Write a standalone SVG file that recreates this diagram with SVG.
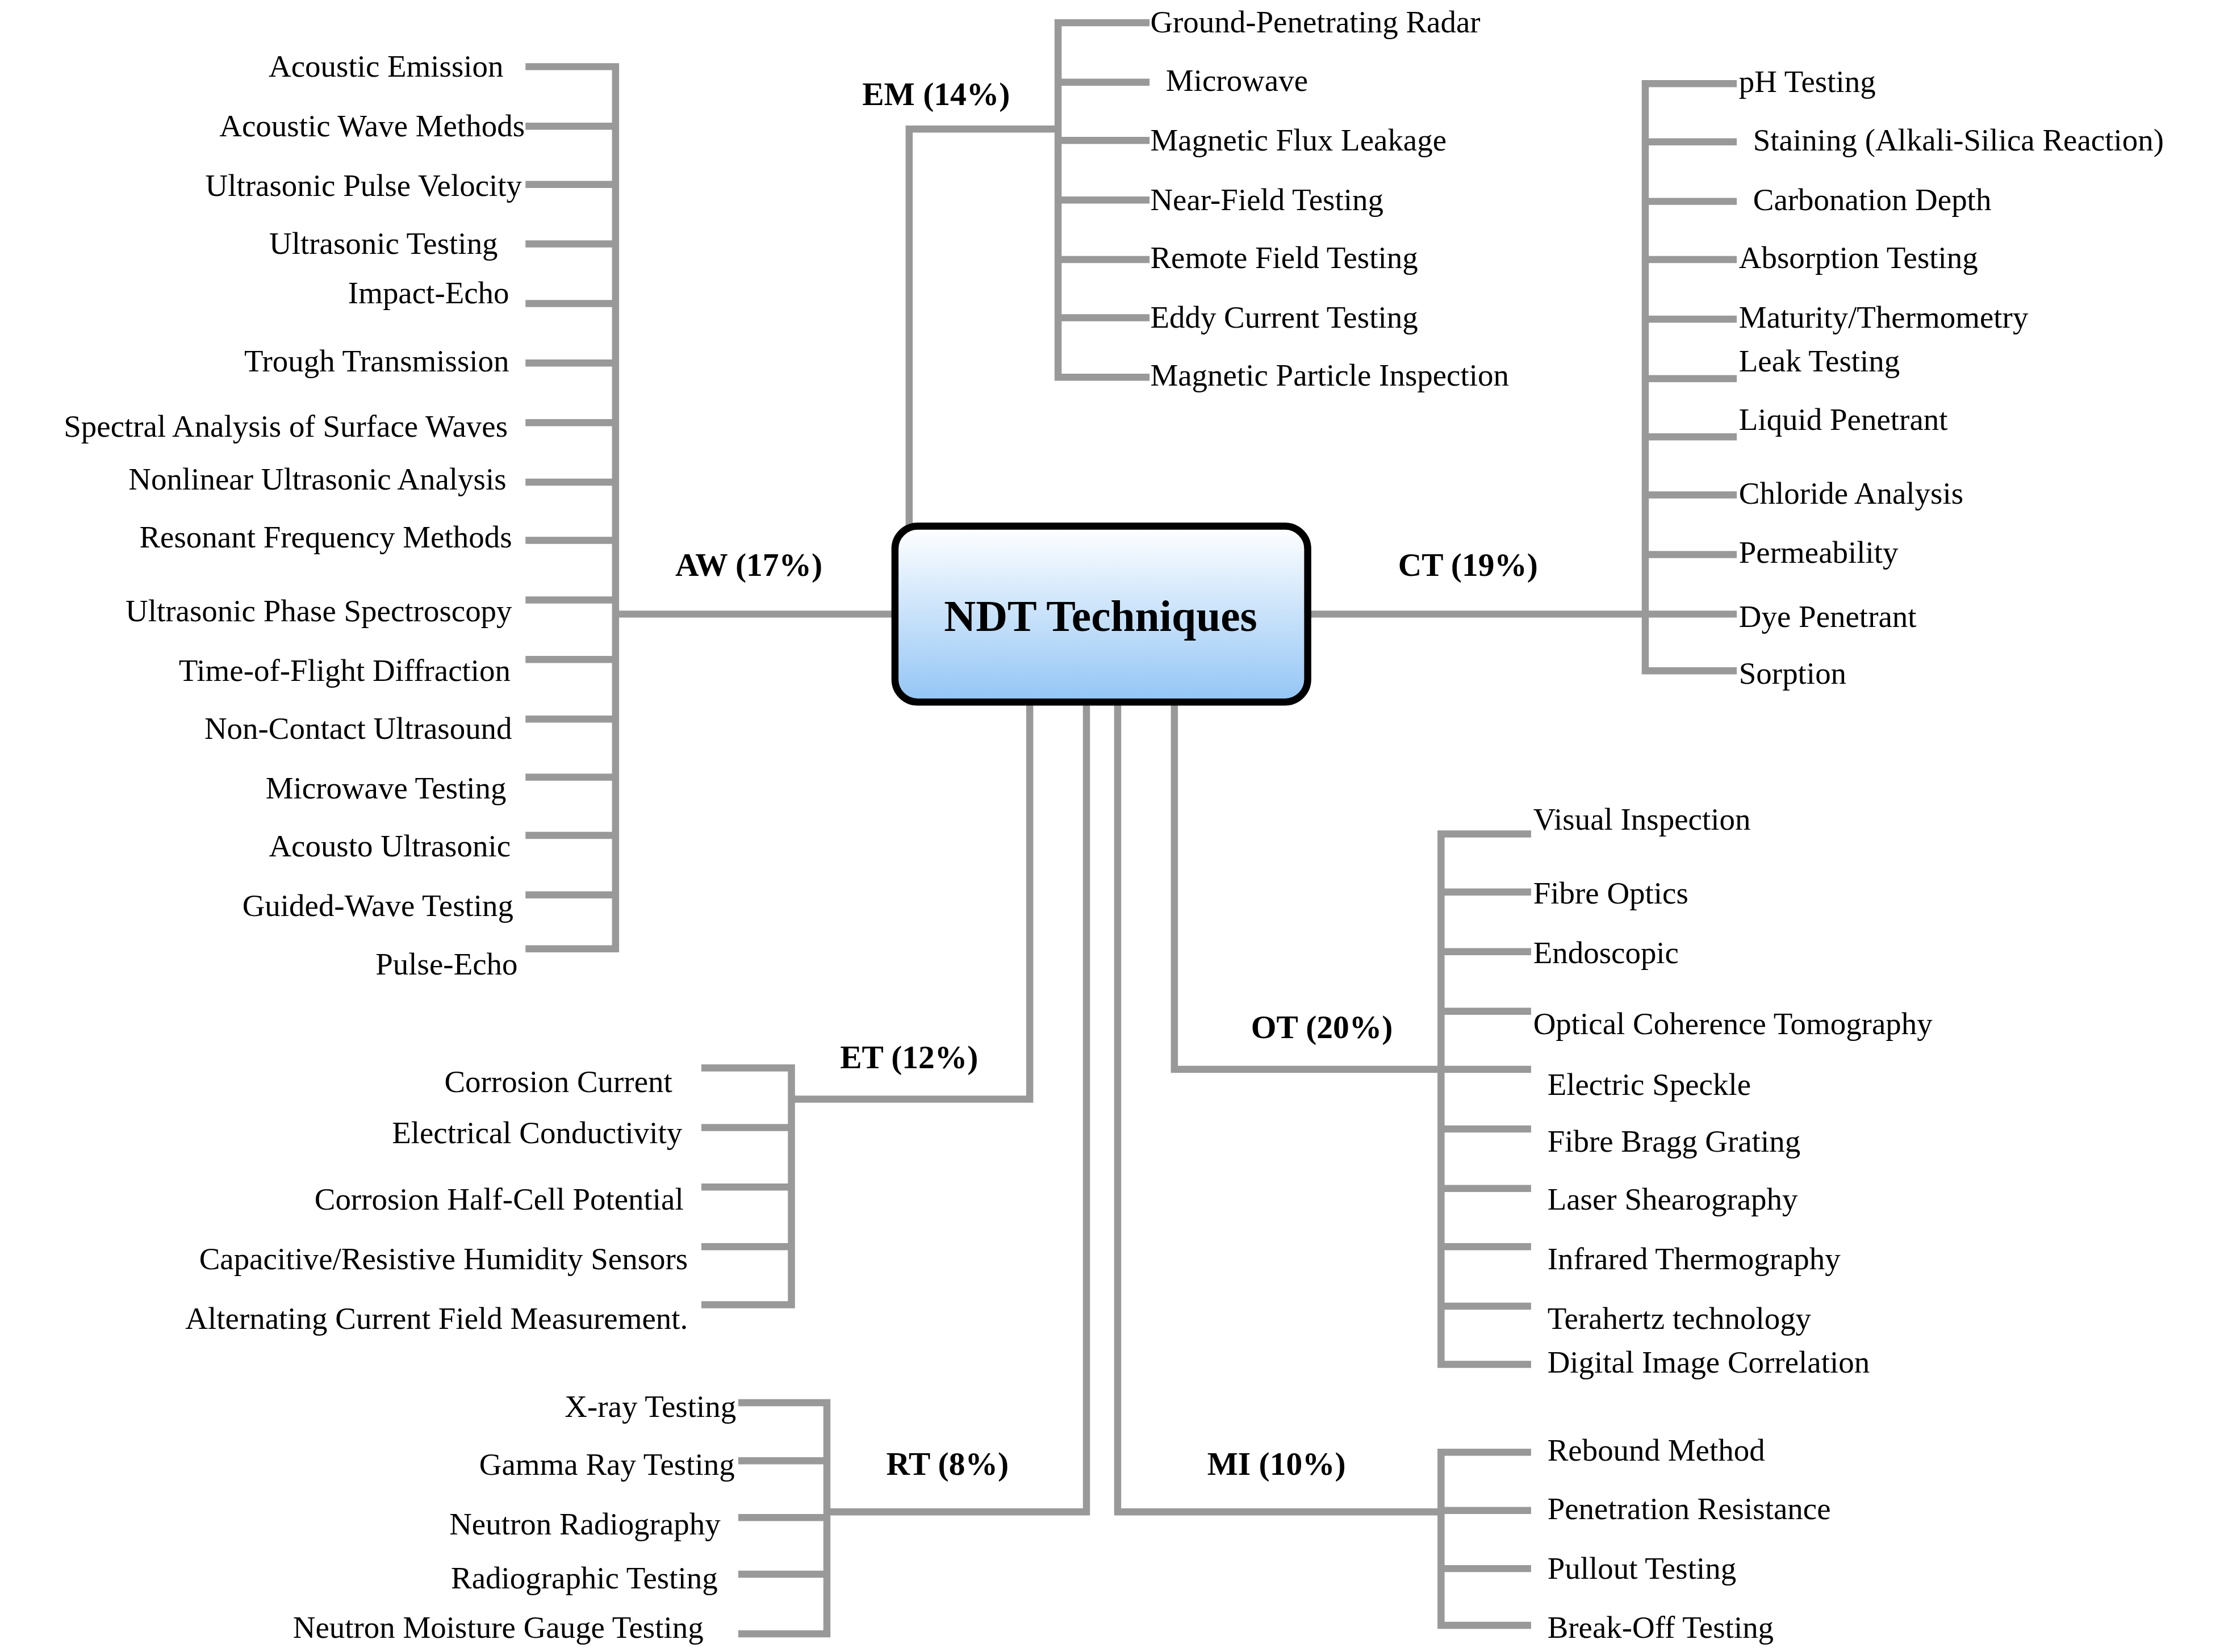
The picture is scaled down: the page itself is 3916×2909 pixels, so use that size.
<svg xmlns="http://www.w3.org/2000/svg" width="3916" height="2909" viewBox="0 0 3916 2909">
<style>
.l{stroke:#999;stroke-width:5;fill:none;stroke-linecap:square}
text{font-family:"Liberation Serif",serif;font-size:22px;fill:#000}
.r{text-anchor:end}
.b{font-weight:bold;font-size:23px;text-anchor:middle}
</style>
<defs><linearGradient id="g" x1="0" y1="0" x2="0" y2="1"><stop offset="0" stop-color="#ffffff"/><stop offset="1" stop-color="#93c5f5"/></linearGradient></defs>
<rect width="3916" height="2909" fill="#fff"/>
<g transform="scale(2.4974)">
<g id="connectors">
<path class="l" d="M630 433H434M434 47V669M373 47H434M373 89H434M373 130H434M373 172H434M373 214H434M373 256H434M373 298H434M373 340H434M373 381H434M373 423H434M373 465H434M373 507H434M373 548H434M373 589H434M373 631H434M373 669H434"/>
<path class="l" d="M641 370V91H746M746 16V266M746 16H808M746 58H808M746 99H808M746 141H808M746 183H808M746 224H808M746 266H808"/>
<path class="l" d="M922 433H1160M1160 59V473M1160 59H1222M1160 100H1222M1160 142H1222M1160 183H1222M1160 225H1222M1160 267H1222M1160 308H1222M1160 349H1222M1160 391H1222M1160 433H1222M1160 473H1222"/>
<path class="l" d="M726 495V775H558M558 753V920M497 753H558M497 795H558M497 837H558M497 879H558M497 920H558"/>
<path class="l" d="M828 495V754H1016M1016 588V962M1016 588H1077M1016 629H1077M1016 671H1077M1016 713H1077M1016 754H1077M1016 796H1077M1016 838H1077M1016 879H1077M1016 921H1077M1016 962H1077"/>
<path class="l" d="M766 495V1066H583M583 989V1150M523 989H583M523 1030H583M523 1070H583M523 1110H583M523 1152H583"/>
<path class="l" d="M788 495V1066H1016M1016 1024V1146M1016 1024H1077M1016 1065H1077M1016 1106H1077M1016 1146H1077"/>
</g>
<g id="center"><rect x="631" y="371" width="291" height="124" rx="16" fill="url(#g)" stroke="#000" stroke-width="5"/><text x="776" y="445" style="font-size:31px;font-weight:bold;text-anchor:middle">NDT Techniques</text></g>
<g id="labels">
<text class="b" x="528" y="406">AW (17%)</text>
<text class="b" x="660" y="74">EM (14%)</text>
<text class="b" x="1035" y="406">CT (19%)</text>
<text class="b" x="641" y="753">ET (12%)</text>
<text class="b" x="932" y="732">OT (20%)</text>
<text class="b" x="668" y="1040">RT (8%)</text>
<text class="b" x="900" y="1040">MI (10%)</text>
</g>
<g id="aw">
<text class="r" x="355" y="54">Acoustic Emission</text>
<text class="r" x="370" y="96">Acoustic Wave Methods</text>
<text class="r" x="368" y="138">Ultrasonic Pulse Velocity</text>
<text class="r" x="351" y="179">Ultrasonic Testing</text>
<text class="r" x="359" y="214">Impact-Echo</text>
<text class="r" x="359" y="262">Trough Transmission</text>
<text class="r" x="358" y="308">Spectral Analysis of Surface Waves</text>
<text class="r" x="357" y="345">Nonlinear Ultrasonic Analysis</text>
<text class="r" x="361" y="386">Resonant Frequency Methods</text>
<text class="r" x="361" y="438">Ultrasonic Phase Spectroscopy</text>
<text class="r" x="360" y="480">Time-of-Flight Diffraction</text>
<text class="r" x="361" y="521">Non-Contact Ultrasound</text>
<text class="r" x="357" y="563">Microwave Testing</text>
<text class="r" x="360" y="604">Acousto Ultrasonic</text>
<text class="r" x="362" y="646">Guided-Wave Testing</text>
<text class="r" x="365" y="687">Pulse-Echo</text>
</g>
<g id="em">
<text x="811" y="23">Ground-Penetrating Radar</text>
<text x="822" y="64">Microwave</text>
<text x="811" y="106">Magnetic Flux Leakage</text>
<text x="811" y="148">Near-Field Testing</text>
<text x="811" y="189">Remote Field Testing</text>
<text x="811" y="231">Eddy Current Testing</text>
<text x="811" y="272">Magnetic Particle Inspection</text>
</g>
<g id="ct">
<text x="1226" y="65">pH Testing</text>
<text x="1236" y="106">Staining (Alkali-Silica Reaction)</text>
<text x="1236" y="148">Carbonation Depth</text>
<text x="1226" y="189">Absorption Testing</text>
<text x="1226" y="231">Maturity/Thermometry</text>
<text x="1226" y="262">Leak Testing</text>
<text x="1226" y="303">Liquid Penetrant</text>
<text x="1226" y="355">Chloride Analysis</text>
<text x="1226" y="397">Permeability</text>
<text x="1226" y="442">Dye Penetrant</text>
<text x="1226" y="482">Sorption</text>
</g>
<g id="et">
<text class="r" x="474" y="770">Corrosion Current</text>
<text class="r" x="481" y="806">Electrical Conductivity</text>
<text class="r" x="482" y="853">Corrosion Half-Cell Potential</text>
<text class="r" x="485" y="895">Capacitive/Resistive Humidity Sensors</text>
<text class="r" x="485" y="937">Alternating Current Field Measurement.</text>
</g>
<g id="ot">
<text x="1081" y="585">Visual Inspection</text>
<text x="1081" y="637">Fibre Optics</text>
<text x="1081" y="679">Endoscopic</text>
<text x="1081" y="729">Optical Coherence Tomography</text>
<text x="1091" y="772">Electric Speckle</text>
<text x="1091" y="812">Fibre Bragg Grating</text>
<text x="1091" y="853">Laser Shearography</text>
<text x="1091" y="895">Infrared Thermography</text>
<text x="1091" y="937">Terahertz technology</text>
<text x="1091" y="968">Digital Image Correlation</text>
</g>
<g id="rt">
<text class="r" x="519" y="999">X-ray Testing</text>
<text class="r" x="518" y="1040">Gamma Ray Testing</text>
<text class="r" x="508" y="1082">Neutron Radiography</text>
<text class="r" x="506" y="1120">Radiographic Testing</text>
<text class="r" x="496" y="1155">Neutron Moisture Gauge Testing</text>
</g>
<g id="mi">
<text x="1091" y="1030">Rebound Method</text>
<text x="1091" y="1071">Penetration Resistance</text>
<text x="1091" y="1113">Pullout Testing</text>
<text x="1091" y="1155">Break-Off Testing</text>
</g>
</g>
</svg>
